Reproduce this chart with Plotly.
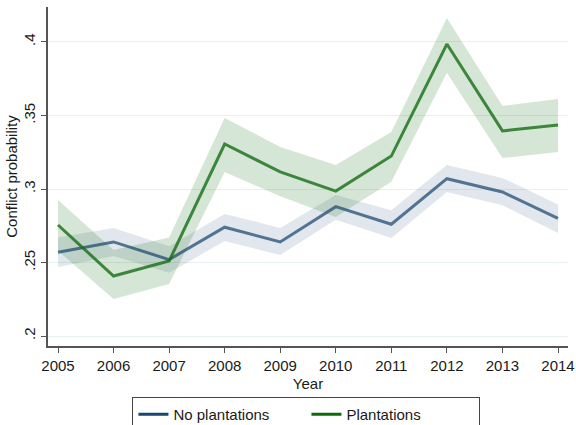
import plotly.graph_objects as go

years = [2005, 2006, 2007, 2008, 2009, 2010, 2011, 2012, 2013, 2014]

no_plant = [0.257, 0.264, 0.252, 0.274, 0.264, 0.288, 0.276, 0.307, 0.298, 0.280]
no_plant_hi = [0.267, 0.2735, 0.261, 0.283, 0.2735, 0.296, 0.2855, 0.3163, 0.3075, 0.2895]
no_plant_lo = [0.247, 0.2545, 0.243, 0.2646, 0.2551, 0.279, 0.2667, 0.298, 0.289, 0.2701]

plant = [0.2755, 0.2408, 0.251, 0.3306, 0.3116, 0.2986, 0.3224, 0.3986, 0.3395, 0.3435]
plant_hi = [0.2925, 0.2585, 0.267, 0.3483, 0.3286, 0.3163, 0.3388, 0.4163, 0.3565, 0.3612]
plant_lo = [0.258, 0.2252, 0.2354, 0.3116, 0.295, 0.281, 0.305, 0.379, 0.3211, 0.3252]

series_names = ["No plantations", "Plantations"]
y_ticks = [0.2, 0.25, 0.3, 0.35, 0.4]
y_tick_labels = [".2", ".25", ".3", ".35", ".4"]

FONT = "Liberation Sans, Arial, sans-serif"

fig = go.Figure()

# confidence bands
fig.add_trace(go.Scatter(x=years, y=no_plant_hi, mode="lines", line=dict(width=0),
                         showlegend=False, hoverinfo="skip"))
fig.add_trace(go.Scatter(x=years, y=no_plant_lo, mode="lines", line=dict(width=0),
                         fill="tonexty", fillcolor="rgba(26,71,111,0.13)",
                         showlegend=False, hoverinfo="skip"))
fig.add_trace(go.Scatter(x=years, y=plant_hi, mode="lines", line=dict(width=0),
                         showlegend=False, hoverinfo="skip"))
fig.add_trace(go.Scatter(x=years, y=plant_lo, mode="lines", line=dict(width=0),
                         fill="tonexty", fillcolor="rgba(46,125,50,0.2)",
                         showlegend=False, hoverinfo="skip"))

# lines
fig.add_trace(go.Scatter(x=years, y=no_plant, mode="lines",
                         line=dict(color="rgba(26,71,111,0.72)", width=3),
                         showlegend=False))
fig.add_trace(go.Scatter(x=years, y=plant, mode="lines",
                         line=dict(color="rgba(20,110,20,0.8)", width=3),
                         showlegend=False))

# legend entries
fig.add_trace(go.Scatter(x=[None], y=[None], mode="lines", name=series_names[0],
                         line=dict(color="#1a476f", width=3)))
fig.add_trace(go.Scatter(x=[None], y=[None], mode="lines", name=series_names[1],
                         line=dict(color="#0b6b0b", width=3)))

fig.update_layout(
    width=576, height=425,
    margin=dict(l=48, r=8, t=7, b=79, autoexpand=False),
    paper_bgcolor="white", plot_bgcolor="white",
    font=dict(family=FONT, size=15, color="#1a1a1a"),
    legend=dict(orientation="h", traceorder="normal",
                x=0.532, xref="container", xanchor="center",
                y=1 - 397 / 425, yref="container", yanchor="top",
                bordercolor="#444", borderwidth=1, bgcolor="white",
                font=dict(size=15), entrywidth=128),
)
fig.update_xaxes(
    range=[2004.82, 2014.18], tickvals=years, ticktext=[str(y) for y in years],
    showline=True, linecolor="#555", linewidth=1.5, ticks="outside", ticklen=5,
    tickcolor="#555", showgrid=False, zeroline=False, automargin=False,
    title=dict(text="Year", standoff=6, font=dict(size=15)),
)
fig.update_yaxes(
    range=[0.1932, 0.4238], tickvals=y_ticks, ticktext=y_tick_labels, tickangle=-90,
    showline=True, linecolor="#555", linewidth=1.5, ticks="outside", ticklen=5,
    tickcolor="#555", showgrid=True, gridcolor="#e8f1f1", gridwidth=1, zeroline=False,
    automargin=False,
    title=dict(text="Conflict probability", standoff=0, font=dict(size=15)),
)

fig.write_html("out.html")
